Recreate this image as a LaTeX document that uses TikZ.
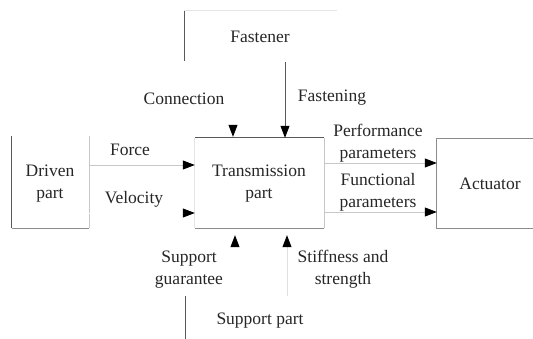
\documentclass[tikz,border=0pt]{standalone}
\usepackage{fontspec}
\setmainfont{Liberation Serif}
\newfontfamily\labelfont{Liberation Serif}
\usetikzlibrary{arrows.meta}
\begin{document}
\begin{tikzpicture}[x=1pt,y=-1pt,
  txt/.style={font=\labelfont\fontsize{17.5}{22}\selectfont, align=center, text=black!85, inner sep=0pt},
  box/.style={draw=none, inner sep=0pt},
  edgedark/.style={draw=black!65, line width=0.9pt},
  edgemid/.style={draw=black!45, line width=0.9pt},
  edgelight/.style={draw=black!22, line width=0.8pt},
  edgefaint/.style={draw=black!10, line width=0.8pt},
  flow/.style={line width=0.8pt, -{Triangle[length=12pt,width=9pt,color=black]}},
]
\useasboundingbox (0,0) rectangle (533,339);

% boxes
\node[box, minimum width=77pt, minimum height=92pt] (driven) at (50.5,182) {};
\node[box, minimum width=129pt, minimum height=90pt] (trans) at (259.5,183) {};
\node[box, minimum width=110pt, minimum height=89pt] (act) at (492,183.5) {};

% box outlines, drawn edge by edge
\draw[edgedark] (driven.north west) -- (driven.south west);
\draw[edgemid] (driven.south west) -- (driven.south east);
\draw[edgelight] (driven.south east) -- (driven.north east);

\draw[edgedark] (trans.north west) -- (trans.north east);
\draw[edgelight] (trans.north east) -- (trans.south east);
\draw[edgemid] (trans.south east) -- (trans.south west);
\draw[edgefaint] (trans.south west) -- (trans.north west);

\draw[edgemid] (act.north east) -- (act.north west) -- (act.south west) -- (act.south east);

% fastener and support part frames
\coordinate (fastTL) at (184,10);
\coordinate (fastBL) at (184,61);
\coordinate (fastTR) at (337,10);
\draw[edgedark] (fastTL) -- (fastBL);
\draw[edgefaint] (fastTL) -- (fastTR);
\coordinate (suppT) at (185,296);
\coordinate (suppB) at (185,339);
\draw[edgedark] (suppT) -- (suppB);

% labels
\node[txt] (lfastener) at (260,37) {Fastener};
\node[txt] (lconn) at (184,99) {Connection};
\node[txt] (lfasten) at (332,98) {Fastening};
\node[txt] (ldriven) at (50,184) {Driven\\part};
\node[txt] (ltrans) at (259,184) {Transmission\\part};
\node[txt] (lact) at (490,184) {Actuator};
\node[txt] (lforce) at (130,150) {Force};
\node[txt] (lvel) at (134,199) {Velocity};
\node[txt] (lperf) at (378,143.5) {Performance\\parameters};
\node[txt] (lfunc) at (378,192) {Functional\\parameters};
\node[txt] (lsupg) at (189,269.5) {Support\\guarantee};
\node[txt] (lstiff) at (343,269.5) {Stiffness and\\strength};
\node[txt] (lsupp) at (260,321) {Support part};

% connectors
\coordinate (connTop) at (233,62);
\coordinate (fastTop) at (285,62);
\coordinate (sgBot) at (235,296);
\coordinate (stBot) at (287,296);

\draw[flow, draw=white, shorten >=1pt] (connTop) -- (connTop |- trans.north);
\draw[flow, draw=black!65] (fastTop) -- (fastTop |- trans.north);
\draw[flow, draw=black!22] (driven.east |- 0,165) -- (trans.west |- 0,165);
\draw[flow, draw=white] (driven.east |- 0,213) -- (trans.west |- 0,213);
\draw[flow, draw=black!22] (trans.east |- 0,163) -- (act.west |- 0,163);
\draw[flow, draw=black!22] (trans.east |- 0,212) -- (act.west |- 0,212);
\draw[flow, draw=white, shorten >=7pt] (sgBot) -- (sgBot |- trans.south);
\draw[flow, draw=black!12, shorten >=7pt] (stBot) -- (stBot |- trans.south);
\end{tikzpicture}
\end{document}
